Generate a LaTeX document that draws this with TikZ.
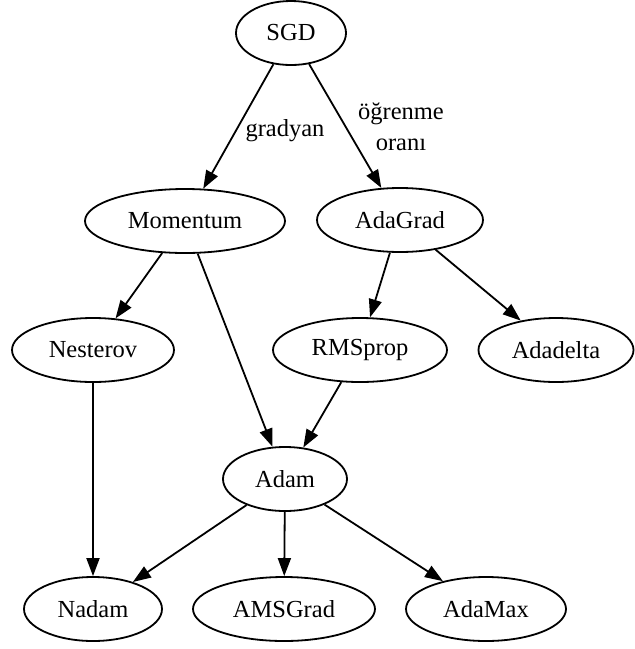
\documentclass[tikz,border=0pt]{standalone}
\usepackage{fontspec}
\setmainfont{Liberation Serif}
\usetikzlibrary{shapes.geometric,arrows.meta}
\begin{document}
\begin{tikzpicture}[x=1pt,y=-1pt,
  every node/.style={font=\fontsize{24.5}{31}\selectfont},
  opt/.style={draw, ellipse, line width=1.8pt, inner sep=0pt, minimum height=64pt},
  edge/.style={line width=1.8pt, -{Triangle[length=18pt,width=13pt]}},
  lbl/.style={align=center, inner sep=0pt}]
\useasboundingbox (0,0) rectangle (635,649);
% optimizer nodes
\node[opt, minimum width=110pt] (sgd)    at (291,33)  {SGD};
\node[opt, minimum width=200pt] (mom)    at (185,221) {Momentum};
\node[opt, minimum width=166pt] (adag)   at (400,220) {AdaGrad};
\node[opt, minimum width=162pt] (nes)    at (93,350)  {Nesterov};
\node[opt, minimum width=174pt] (rms)    at (360,350) {RMSprop};
\node[opt, minimum width=155pt] (adad)   at (556,350) {Adadelta};
\node[opt, minimum width=124pt] (adam)   at (285,479) {Adam};
\node[opt, minimum width=138pt] (nadam)  at (93,609)  {Nadam};
\node[opt, minimum width=182pt] (ams)    at (284,609) {AMSGrad};
\node[opt, minimum width=160pt] (adamax) at (486,609) {AdaMax};
% edge labels
\node[lbl] (lgrad) at (285,131) {gradyan};
\node[lbl] (llr)   at (401,127) {öğrenme\\oranı};
% connectors
\draw[edge] (sgd) -- (mom);
\draw[edge] (sgd) -- (adag);
\draw[edge] (mom) -- (nes);
\draw[edge] (mom) -- (adam);
\draw[edge] (adag) -- (rms);
\draw[edge] (adag) -- (adad);
\draw[edge] (rms) -- (adam);
\draw[edge] (nes) -- (nadam);
\draw[edge] (adam) -- (nadam);
\draw[edge] (adam) -- (ams);
\draw[edge] (adam) -- (adamax);
\end{tikzpicture}
\end{document}
